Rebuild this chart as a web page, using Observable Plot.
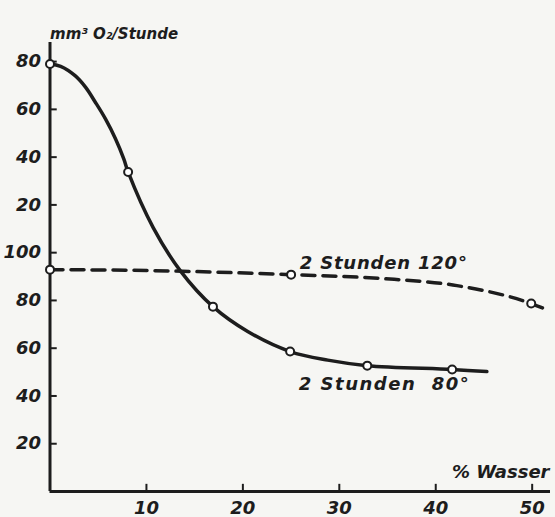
<!DOCTYPE html>
<html><head><meta charset="utf-8">
<script src="https://cdn.jsdelivr.net/npm/d3@7"></script>
<script src="https://cdn.jsdelivr.net/npm/@observablehq/plot@0.6"></script>
<style>
html,body{margin:0;padding:0;background:#f6f6f3;}
svg{font-family:"DejaVu Sans",sans-serif;}
.lbl80 text{letter-spacing:1.5px;}
.lbl120 text{letter-spacing:0.8px;}
</style></head><body>
<div id="chart"></div>
<script>
// Ticks
const xTicks = [10, 20, 30, 40, 50];
const yTicks = [20, 40, 60, 80, 100, 120, 140, 160, 180];
const yTickLabels = ["20", "40", "60", "80", "100", "20", "40", "60", "80"];

// 2 Stunden 80° — measured points (circles)
const s80X = [0, 8.1, 16.9, 24.9, 32.9, 41.7];
const s80Y = [179, 133.8, 77.4, 58.6, 52.7, 51.1];
// traced curve of 80° line
const c80X = [0, 1.1, 2.6, 3.7, 4.7, 5.75, 6.8, 7.65, 8.1, 10.7, 13.5, 16.9, 20.5, 24.9, 28.8, 32.9, 41.7, 45.3];
const c80Y = [179, 178, 174.1, 169.2, 163, 156, 147.6, 139.3, 133.8, 110.5, 92.5, 77.4, 67, 58.6, 55, 52.7, 51.1, 50.2];

// 2 Stunden 120° — measured points
const s120X = [0, 25.0, 49.9];
const s120Y = [92.9, 90.8, 78.7];
// traced curve of 120° line
const c120X = [0, 10.4, 25.0, 34.3, 42.2, 49.9, 51.5];
const c120Y = [92.9, 92.5, 90.8, 89.2, 86.2, 78.7, 76.2];

const label120 = [{x: 25.9, y: 95.5, text: "2 Stunden 120°"}];
const label80 = [{x: 25.8, y: 45.0, text: "2 Stunden  80°"}];

const zip = (xs, ys) => xs.map((x, i) => ({x, y: ys[i]}));
const ink = "#1d1d1d";
const fnt = {fontSize: 18, fontWeight: "bold", fontStyle: "italic", fill: ink};

const chart = Plot.plot({
  width: 555, height: 517,
  marginLeft: 49.5, marginRight: 5, marginTop: 42, marginBottom: 26,
  style: {background: "#f6f6f3", color: ink},
  x: {type: "linear", domain: [0, 51.9], axis: null},
  y: {type: "linear", domain: [0, 188], axis: null},
  marks: [
    // axis lines
    Plot.ruleX([0], {stroke: ink, strokeWidth: 3}),
    Plot.ruleY([0], {stroke: ink, strokeWidth: 3}),
    // inward ticks
    Plot.ruleY(yTicks, {y: d => d, x1: 0, x2: 0.75, stroke: ink, strokeWidth: 2}),
    Plot.ruleX(xTicks, {x: d => d, y1: 0, y2: 3, stroke: ink, strokeWidth: 2}),
    // tick labels
    Plot.text(yTicks, {x: 0, y: d => d, text: (d, i) => yTickLabels[i], textAnchor: "end", dx: -9, ...fnt}),
    Plot.text(xTicks, {x: d => d, y: 0, text: d => String(d), dy: 17, ...fnt}),
    // curves
    Plot.line(zip(c120X, c120Y), {x: "x", y: "y", curve: "monotone-x", stroke: ink, strokeWidth: 3.5, strokeDasharray: "13,8"}),
    Plot.line(zip(c80X, c80Y), {x: "x", y: "y", curve: "catmull-rom", stroke: ink, strokeWidth: 3.5}),
    Plot.dot(zip(s120X, s120Y), {x: "x", y: "y", r: 4, fill: "white", stroke: ink, strokeWidth: 2}),
    Plot.dot(zip(s80X, s80Y), {x: "x", y: "y", r: 4, fill: "white", stroke: ink, strokeWidth: 2}),
    // series labels
    Plot.text(label120, {x: "x", y: "y", text: "text", textAnchor: "start", className: "lbl120", ...fnt, fontSize: 18}),
    Plot.text(label80, {x: "x", y: "y", text: "text", textAnchor: "start", className: "lbl80", ...fnt, fontSize: 18}),
    // axis titles
    Plot.text(["% Wasser"], {frameAnchor: "bottom-right", dx: -1, dy: -14, textAnchor: "end", ...fnt, fontSize: 18}),
    Plot.text(["mm³ O₂/Stunde"], {frameAnchor: "top-left", dx: 0, dy: -14, textAnchor: "start", ...fnt, fontSize: 15})
  ]
});
document.getElementById("chart").appendChild(chart);
</script>
</body></html>
